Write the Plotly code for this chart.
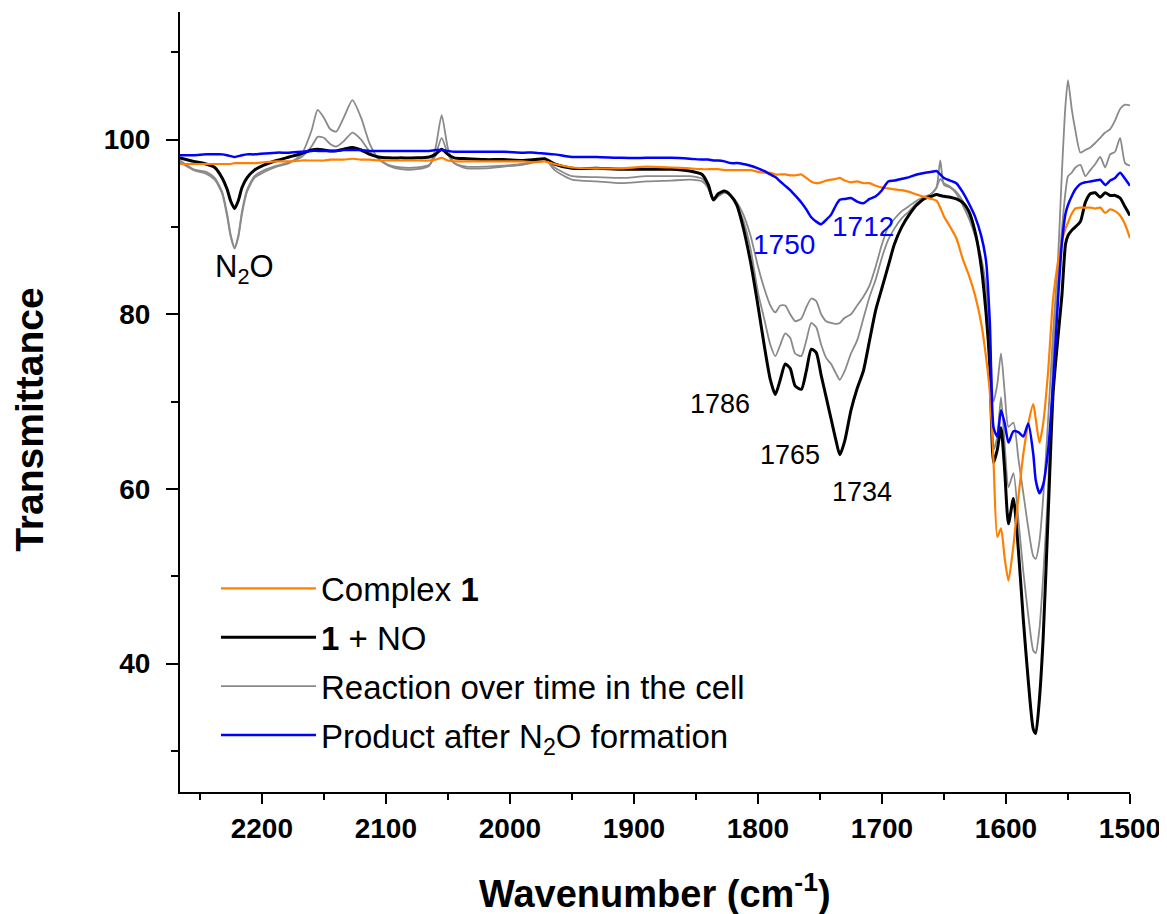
import plotly.graph_objects as go

# Wavenumber grid (cm-1)
wavenumber = [
    2266, 2255, 2245, 2238, 2232, 2228, 2225, 2222, 2219, 2216, 2212, 2206, 2198,
    2188, 2178, 2168, 2160, 2155, 2150, 2145, 2140, 2134, 2127, 2120, 2113, 2106,
    2098, 2088, 2075, 2065, 2060, 2055, 2050, 2045, 2035, 2020, 2005, 1990, 1980, 1972,
    1964, 1950, 1930, 1910, 1890, 1870, 1855, 1845, 1840, 1836, 1832, 1827, 1822, 1817, 1812,
    1806, 1800, 1795, 1790, 1786, 1782, 1778, 1774, 1770, 1765, 1761, 1757, 1753, 1749, 1745, 1741, 1737,
    1734, 1730, 1725, 1720, 1715, 1710, 1705, 1700, 1695, 1690, 1684, 1678, 1672, 1665,
    1660, 1656, 1653, 1650, 1645, 1640, 1635, 1630, 1625, 1620, 1616, 1613, 1610,
    1607, 1604, 1601, 1598, 1594, 1590, 1586, 1582, 1578, 1576, 1573, 1570, 1566, 1562, 1558, 1555,
    1552, 1550, 1547, 1544, 1540, 1536, 1532, 1528, 1524, 1520, 1516, 1512, 1508, 1504, 1500,
]

complex1 = [
    97.2, 97.2, 97.2, 97.2, 97.2, 97.2, 97.2, 97.3, 97.3, 97.3, 97.3, 97.3, 97.4,
    97.5, 97.5, 97.6, 97.6, 97.6, 97.6, 97.7, 97.7, 97.7, 97.8, 97.7, 97.7, 97.6,
    97.6, 97.6, 97.6, 97.6, 97.7, 97.9, 97.6, 97.5, 97.5, 97.5, 97.5, 97.5, 97.4, 97.5,
    97.2, 96.8, 96.7, 96.7, 96.9, 96.8, 96.7, 96.6, 96.6, 96.6, 96.6, 96.5, 96.5, 96.5, 96.5,
    96.5, 96.3, 96.2, 96.2, 96.0, 96.0, 96.0, 95.9, 95.9, 96.0, 95.6, 95.2, 95.0, 95.1, 95.3, 95.4, 95.5,
    95.6, 95.3, 95.1, 95.2, 95.0, 95.0, 94.7, 94.5, 94.4, 94.3, 94.2, 94.0, 93.7, 93.4,
    93.2, 93.0, 92.2, 91.2, 90.0, 88.7, 86.4, 84.5, 82.2, 79.0, 75.0, 71.0, 63.0,
    54.5, 55.5, 52.0, 49.5, 53.5, 59.0, 64.0, 67.5, 69.7, 68.0, 65.3, 67.5, 73.5, 81.8, 86.0, 88.3,
    89.8, 90.5, 91.5, 92.1, 92.2, 92.2, 92.2, 92.1, 92.2, 91.6, 92.0, 91.8, 91.3, 90.3, 88.7,
]

one_plus_no = [
    97.9, 97.5, 97.2, 96.8, 95.6, 94.3, 92.9, 92.1, 93.0, 94.5, 95.6, 96.5, 97.1,
    97.6, 98.0, 98.4, 98.8, 98.9, 98.8, 98.7, 98.7, 98.9, 99.1, 98.8, 98.3, 98.0,
    97.9, 97.9, 97.9, 98.0, 98.3, 98.9, 98.3, 97.9, 97.8, 97.7, 97.7, 97.6, 97.7, 97.8,
    97.2, 96.7, 96.7, 96.6, 96.6, 96.6, 96.4, 96.0, 94.8, 93.1, 93.8, 94.1, 93.6, 92.5, 90.0,
    86.0, 81.0, 76.5, 72.5, 70.8, 72.5, 74.3, 73.8, 71.8, 71.4, 73.5, 76.0, 75.6, 73.0, 70.5, 68.0, 65.5,
    63.9, 65.5, 69.0, 71.5, 73.5, 77.0, 80.5, 83.0, 85.5, 88.0, 90.0, 91.4, 92.5, 93.3,
    93.5, 93.7, 93.6, 93.5, 93.4, 93.2, 92.8, 91.8, 89.5, 85.5, 80.0, 74.0, 63.0,
    64.5, 67.0, 62.0, 56.0, 58.9, 53.0, 45.0, 38.0, 32.5, 32.0, 36.0, 43.0, 57.0, 71.0, 77.5, 82.0,
    88.0, 89.0, 89.6, 90.0, 90.6, 92.8, 93.8, 93.9, 93.4, 93.9, 93.6, 93.6, 93.3, 92.3, 91.3,
]

reaction_a = [
    97.6, 96.6, 96.3, 95.6, 94.0, 91.5, 89.0, 87.7, 89.0, 91.8, 94.2, 95.8, 96.5,
    97.0, 97.4, 98.0, 99.2, 100.3, 100.2, 99.5, 99.2, 99.8, 100.8, 100.0, 98.6, 97.8,
    97.1, 96.8, 96.8, 97.1, 98.2, 100.2, 98.3, 97.3, 96.9, 96.9, 97.0, 97.2, 97.5, 97.8,
    96.8, 95.8, 95.7, 95.6, 95.8, 95.8, 95.8, 95.5, 94.5, 93.1, 93.7, 94.0, 93.5, 92.4, 90.8,
    87.5, 82.5, 79.5, 76.5, 75.2, 76.5, 77.8, 77.3, 75.5, 75.2, 77.0, 79.0, 78.5, 76.5, 75.0, 74.3, 73.2,
    72.5, 73.5, 75.5, 77.0, 79.5, 82.0, 84.0, 86.5, 88.5, 89.8, 91.0, 91.8, 92.7, 93.3,
    93.8, 94.5, 95.5, 95.0, 94.6, 94.0, 93.0, 91.5, 89.5, 86.0, 81.0, 74.0, 64.5,
    66.0, 70.5, 65.0, 60.2, 61.8, 56.5, 50.5, 45.5, 41.5, 41.2, 44.0, 50.0, 60.0, 75.0, 84.0, 89.5,
    94.0, 95.8, 96.2, 96.8, 97.1, 95.8, 96.5, 97.2, 98.0, 96.8, 98.3, 98.6, 100.2, 97.3, 97.0,
]

reaction_b = [
    97.4, 96.5, 96.1, 95.4, 93.8, 91.2, 88.8, 87.5, 88.8, 91.5, 94.0, 95.6, 96.3,
    96.9, 97.3, 98.3, 101.0, 103.4, 102.5, 101.2, 100.9, 102.5, 104.5, 102.5, 99.5, 97.8,
    97.0, 96.6, 96.6, 97.0, 99.0, 102.8, 99.0, 97.3, 96.7, 96.7, 96.9, 97.1, 97.4, 97.8,
    96.5, 95.4, 95.2, 95.0, 95.2, 95.3, 95.4, 95.2, 94.4, 93.0, 93.5, 93.9, 93.6, 92.8, 91.5,
    89.0, 85.5, 83.0, 81.0, 80.2, 81.0, 81.0, 80.0, 79.2, 79.5, 80.8, 81.8, 81.5, 80.0, 79.2, 79.0, 78.9,
    79.0, 79.6, 80.0, 81.0, 82.0, 83.3, 85.5, 88.0, 90.0, 90.9, 91.8, 92.4, 93.0, 93.5,
    93.8, 94.5, 97.6, 94.8, 94.5, 93.8, 92.5, 91.0, 89.0, 86.5, 83.0, 77.0, 70.0,
    72.0, 75.5, 71.0, 67.1, 67.6, 63.5, 59.5, 55.5, 52.3, 52.0, 54.0, 59.0, 68.0, 78.0, 86.4, 96.0,
    104.0, 106.8, 103.5, 101.0, 98.5, 98.8, 99.1, 99.6, 100.2, 100.8, 101.2, 102.2, 103.5, 104.0, 103.9,
]

product = [
    98.2, 98.2, 98.3, 98.3, 98.3, 98.2, 98.1, 98.0, 98.1, 98.2, 98.3, 98.3, 98.4,
    98.5, 98.5, 98.6, 98.7, 98.7, 98.7, 98.7, 98.7, 98.8, 98.8, 98.8, 98.7, 98.7,
    98.7, 98.7, 98.7, 98.7, 98.8, 98.8, 98.7, 98.6, 98.6, 98.6, 98.6, 98.5, 98.5, 98.4,
    98.3, 98.0, 98.0, 97.9, 97.9, 97.9, 97.8, 97.7, 97.7, 97.6, 97.6, 97.5, 97.3, 97.3, 97.2,
    97.0, 96.7, 96.4, 96.0, 95.7, 95.2, 94.7, 94.2, 93.6, 92.8, 92.0, 91.1, 90.6, 90.3, 90.8, 91.4, 92.5,
    93.1, 93.2, 93.3, 92.9, 92.7, 93.2, 93.5, 94.2, 95.2, 95.3, 95.5, 95.7, 96.0, 96.2,
    96.3, 96.4, 96.0, 95.6, 95.3, 95.0, 94.0, 92.7, 91.2, 89.0, 86.0, 79.0, 67.0,
    66.0, 69.0, 67.5, 65.3, 66.6, 66.5, 66.0, 67.5, 64.0, 61.0, 59.5, 60.5, 64.5, 72.0, 81.8, 88.0,
    91.5, 92.5, 93.5, 94.3, 94.9, 95.1, 95.2, 95.3, 95.4, 94.8, 95.3, 95.6, 96.2, 95.5, 94.7,
]

for s in (complex1, one_plus_no, reaction_a, reaction_b, product):
    assert len(s) == len(wavenumber), len(s)

x_ticks = [2200, 2100, 2000, 1900, 1800, 1700, 1600, 1500]
y_ticks = [40, 60, 80, 100]
y_minor = [30, 50, 70, 90, 110]

FONT = "Liberation Sans, Arial, sans-serif"
ORANGE = "#FF7F00"
GRAY = "#8A8A8A"
BLUE = "#0000FF"

fig = go.Figure()
common = dict(mode="lines", line_shape="spline", line_smoothing=0.6)

fig.add_trace(go.Scatter(x=wavenumber, y=reaction_b, name="Reaction over time in the cell",
                         line=dict(color=GRAY, width=1.8), legendgroup="g", showlegend=False,
                         **common))
fig.add_trace(go.Scatter(x=wavenumber, y=reaction_a, name="Reaction over time in the cell",
                         line=dict(color=GRAY, width=1.8), legendgroup="g", legendrank=3,
                         **common))
fig.add_trace(go.Scatter(x=wavenumber, y=one_plus_no, name="<b>1</b> + NO",
                         line=dict(color="black", width=3), legendgroup="k", legendrank=2,
                         **common))
fig.add_trace(go.Scatter(x=wavenumber, y=complex1, name="Complex <b>1</b>",
                         line=dict(color=ORANGE, width=2.2), legendgroup="o", legendrank=1,
                         **common))
fig.add_trace(go.Scatter(x=wavenumber, y=product, name="Product after N<sub>2</sub>O formation",
                         line=dict(color=BLUE, width=2.5), legendgroup="b", legendrank=4,
                         **common))

annots = [
    dict(x=2213.7, y=85.2, text="N<sub>2</sub>O", font=dict(size=31, color="black")),
    dict(x=1830.6, y=69.7, text="1786", font=dict(size=27, color="black")),
    dict(x=1774.0, y=63.9, text="1765", font=dict(size=27, color="black")),
    dict(x=1716.0, y=59.6, text="1734", font=dict(size=27, color="black")),
    dict(x=1779.0, y=88.0, text="1750", font=dict(size=28, color=BLUE)),
    dict(x=1715.0, y=90.1, text="1712", font=dict(size=28, color=BLUE)),
]
for a in annots:
    a["font"]["family"] = FONT
    fig.add_annotation(showarrow=False, xref="x", yref="y", xanchor="center", yanchor="middle", **a)

fig.add_annotation(xref="paper", yref="paper", x=0.5, y=-0.127, xanchor="center", yanchor="middle",
                   text="Wavenumber (cm<sup>-1</sup>)", showarrow=False,
                   font=dict(family=FONT, size=38, color="black", weight="bold"))
fig.add_annotation(xref="paper", yref="paper", x=-0.158, y=0.477, xanchor="center", yanchor="middle",
                   text="Transmittance", textangle=-90, showarrow=False,
                   font=dict(family=FONT, size=39, color="black", weight="bold"))

# The page body adds an 8 px offset, so the figure is 8 px smaller than the window.
fig.update_layout(
    width=1159, height=906,
    margin=dict(l=172, r=37, t=4, b=122),
    paper_bgcolor="white", plot_bgcolor="white",
    showlegend=True,
    legend=dict(x=0.0379, y=0.297, xanchor="left", yanchor="top",
                font=dict(family=FONT, size=33, color="black"),
                bgcolor="rgba(0,0,0,0)", traceorder="grouped", tracegroupgap=3,
                itemwidth=95),
    xaxis=dict(range=[2266, 1500], tickmode="array", tickvals=x_ticks,
               showgrid=False, zeroline=False, showline=True, linecolor="black", linewidth=2,
               ticks="outside", ticklen=10, tickwidth=2, tickcolor="black",
               tickfont=dict(family=FONT, size=28, color="black", weight="bold"),
               minor=dict(tickmode="linear", tick0=2250, dtick=100, ticks="outside",
                          ticklen=6, tickwidth=2, tickcolor="black", showgrid=False)),
    yaxis=dict(range=[25.3, 114.6], tickmode="array", tickvals=y_ticks,
               showgrid=False, zeroline=False, showline=True, linecolor="black", linewidth=2,
               ticks="outside", ticklen=12, tickwidth=2, tickcolor="black",
               ticklabelstandoff=10,
               tickfont=dict(family=FONT, size=28, color="black", weight="bold"),
               minor=dict(tickmode="array", tickvals=y_minor, ticks="outside",
                          ticklen=7, tickwidth=2, tickcolor="black", showgrid=False)),
)

fig.write_html("out.html")
